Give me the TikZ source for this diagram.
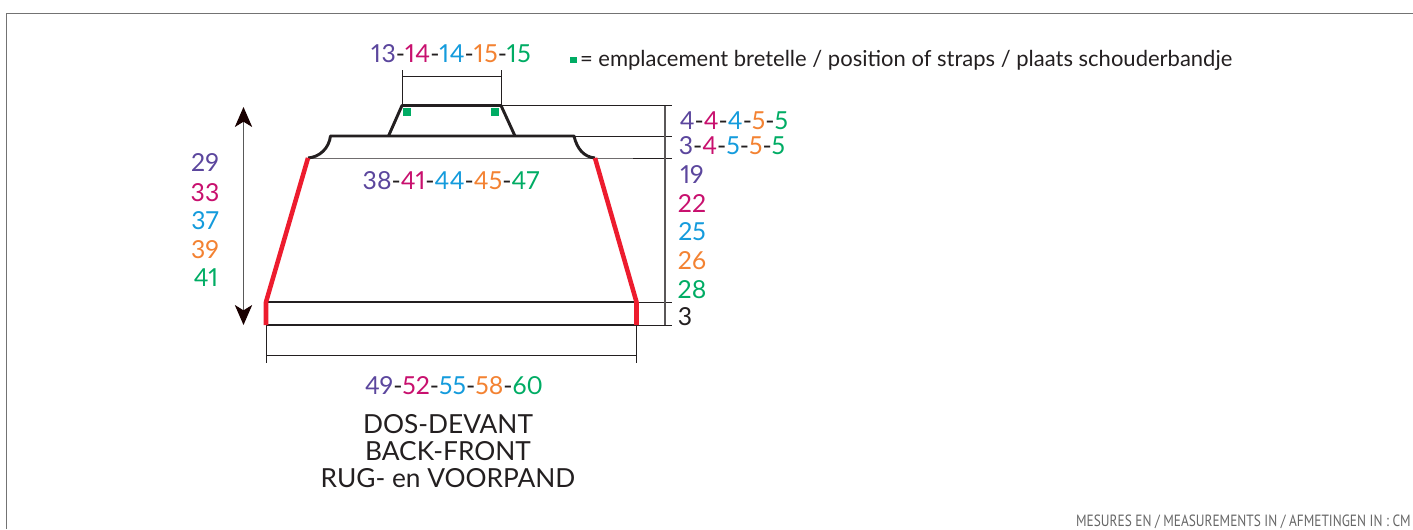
\documentclass[tikz,border=0pt]{standalone}
\usepackage{fontspec}
\setmainfont{Lato}[Numbers=Proportional]
\newfontfamily\ptsans{PT Sans}[FakeStretch=0.82]
\usetikzlibrary{arrows.meta}
\definecolor{cviolet}{RGB}{91,70,157}
\definecolor{cmag}{RGB}{200,16,110}
\definecolor{cblue}{RGB}{20,155,220}
\definecolor{corange}{RGB}{243,130,50}
\definecolor{cgreen}{RGB}{0,172,100}
\definecolor{cblack}{RGB}{35,31,32}
\definecolor{cred}{RGB}{237,28,46}
\newcommand{\seq}[5]{\textcolor{cviolet}{#1}-\textcolor{cmag}{#2}-\textcolor{cblue}{#3}-\textcolor{corange}{#4}-\textcolor{cgreen}{#5}}
\tikzset{
  px/.style={x=0.75pt,y=-0.75pt},
  label/.style={inner sep=0pt,outer sep=0pt,text=cblack,font=\fontsize{18.6pt}{21pt}\selectfont,anchor=center},
  title/.style={label,align=center,font=\fontsize{19.7pt}{20.3pt}\selectfont},
  legend/.style={label,anchor=west,font=\fontsize{16.5pt}{18pt}\selectfont},
  thin line/.style={draw=cblack,line width=0.75pt},
  dim line/.style={draw=cblack!75,line width=0.9pt},
  garment/.style={draw=cblack,line width=2.2pt,line join=round},
  edge line/.style={draw=cred,line width=3.4pt,line join=round},
  strap/.style={fill=cgreen,draw=none},
  frame/.style={draw=black!55,line width=1.2pt},
  bigarrow/.style={draw=black!65,line width=0.9pt,{Stealth[length=15pt,width=13pt,inset=4pt,black!90!red]}-{Stealth[length=15pt,width=13pt,inset=4pt,black!90!red]}}
}
\begin{document}
\begin{tikzpicture}[px]
\useasboundingbox (0,0) rectangle (1413,529);
\draw[frame] (6.5,529) -- (6.5,13.5) -- (1413,13.5);
% named points
\coordinate (nl) at (402,105.5);
\coordinate (nr) at (501,105.5);
\coordinate (sl) at (388.5,136);
\coordinate (sr) at (515,136);
\coordinate (al) at (330.5,136);
\coordinate (ar) at (574,136);
\coordinate (ul) at (308,158);
\coordinate (ur) at (595,158);
\coordinate (hl) at (266,302);
\coordinate (hr) at (636.5,302);
\coordinate (bl) at (266,325);
\coordinate (br) at (636.5,325);
% thin lines
\draw[thin line] (402,70) -- (nl);
\draw[thin line] (501,70) -- (nr);
\draw[thin line] (402,76.5) -- (501,76.5);
\draw[thin line] (ul) -- (ur) -- (672,158);
\draw[thin line] (nr) -- (672,105.5);
\draw[thin line] (ar) -- (672,136);
\draw[thin line] (hr) -- (672,302);
\draw[thin line] (br) -- (672,325);
\draw[dim line] (665,105.5) -- (665,325);
\draw[thin line] (bl) -- (266,363);
\draw[thin line] (br) -- (636.5,363);
\draw[thin line] (266,355) -- (636.5,355);
\draw[bigarrow] (243.5,107) -- (243.5,325);
% garment
\draw[garment] (sl) -- (nl) -- (nr) -- (sr);
\draw[garment] (ul) .. controls (320,157) and (329,148) .. (al) -- (ar) .. controls (577,149) and (584,157) .. (ur);
\draw[garment] (hl) -- (hr);
\draw[garment] (bl) -- (br);
\draw[edge line] (ul) -- (hl) -- (bl);
\draw[edge line] (ur) -- (hr) -- (br);
% straps
\fill[strap] (403,108) rectangle (411,116);
\fill[strap] (491,108) rectangle (499,116);
\fill[strap] (570,57) rectangle (577,63);
% texts
\node[label] (t1) at (451,54) {\addfontfeature{LetterSpace=2.3}\seq{13}{14}{14}{15}{15}};
\node[label] (t2) at (451,181) {\addfontfeature{LetterSpace=1}\seq{38}{41}{44}{45}{47}};
\node[label] (t3) at (454,386) {\seq{49}{52}{55}{58}{60}};
\node[label] (t4) at (734,121) {\seq{4}{4}{4}{5}{5}};
\node[label] (t5) at (732,146) {\seq{3}{4}{5}{5}{5}};
\node[legend] (t6) at (580,60) {= emplacement bretelle / position of straps / plaats schouderbandje};
\node[label,text=cviolet] (a1) at (205,163) {29};
\node[label,text=cmag] (a2) at (205,193) {33};
\node[label,text=cblue] (a3) at (205,221) {37};
\node[label,text=corange] (a4) at (205,250) {39};
\node[label,text=cgreen] (a5) at (206,278) {41};
\node[label,text=cviolet] (b1) at (692,175) {19};
\node[label,text=cmag] (b2) at (692,204) {22};
\node[label,text=cblue] (b3) at (692,232) {25};
\node[label,text=corange] (b4) at (692,261) {26};
\node[label,text=cgreen] (b5) at (692,290) {28};
\node[label] (b6) at (685,317) {3};
\node[title] (c1) at (448,424) {DOS-DEVANT};
\node[title] (c2) at (448,451) {BACK-FRONT};
\node[title] (c3) at (448,478) {RUG- en VOORPAND};
\node[inner sep=0pt,anchor=east,text=black!60,font=\ptsans\fontsize{12.2pt}{13pt}\selectfont] (m) at (1411,522) {MESURES EN / MEASUREMENTS IN / AFMETINGEN IN : CM};
\end{tikzpicture}
\end{document}
